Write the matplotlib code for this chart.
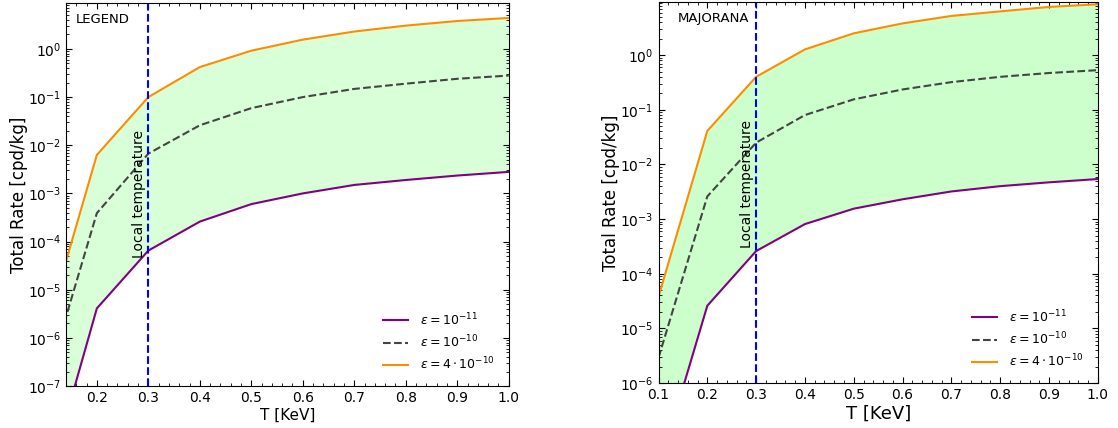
import matplotlib
matplotlib.use("Agg")
import matplotlib.pyplot as plt
from matplotlib.ticker import LogLocator, MultipleLocator, AutoMinorLocator

# temperature grid [KeV]
T = [0.1, 0.2, 0.3, 0.4, 0.5, 0.6, 0.7, 0.8, 0.9, 1.0]

# LEGEND detector, total rate [cpd/kg]
legend_e11 = [7e-10, 4.1e-6, 6.5e-5, 2.6e-4, 6.0e-4, 1.0e-3, 1.5e-3, 1.9e-3, 2.35e-3, 2.8e-3]
legend_e10 = [1.0e-7, 3.9e-4, 6.7e-3, 0.026, 0.059, 0.10, 0.148, 0.19, 0.24, 0.28]
legend_4e10 = [1.3e-6, 6.3e-3, 0.10, 0.42, 0.92, 1.56, 2.3, 3.05, 3.8, 4.4]

# MAJORANA detector
maj_e11 = [2.6e-8, 2.6e-5, 2.6e-4, 8.1e-4, 1.55e-3, 2.3e-3, 3.2e-3, 4.0e-3, 4.7e-3, 5.4e-3]
maj_e10 = [2.9e-6, 2.6e-3, 0.025, 0.080, 0.155, 0.235, 0.32, 0.40, 0.47, 0.53]
maj_4e10 = [3.8e-5, 0.041, 0.40, 1.27, 2.5, 3.8, 5.2, 6.3, 7.6, 8.5]

T_local = 0.3

fig = plt.figure(figsize=(11.18, 4.28), dpi=100)
ax1 = fig.add_axes([0.059, 0.098, 0.396, 0.895])
ax2 = fig.add_axes([0.589, 0.105, 0.393, 0.890])


def draw(ax, e11, e10, e4, name, name_x, ylim, xlim, alpha, text_y, xlabel_size):
    ax.fill_between(T, e11, e4, color='lime', alpha=alpha, lw=0)
    ax.plot(T, e11, color='purple', lw=1.5, label=r'$\varepsilon = 10^{-11}$')
    ax.plot(T, e10, color='#444444', lw=1.5, ls='--', label=r'$\varepsilon = 10^{-10}$')
    ax.plot(T, e4, color='darkorange', lw=1.5, label=r'$\varepsilon = 4 \cdot 10^{-10}$')
    ax.axvline(T_local, color='blue', ls='--', lw=1.5)
    ax.text(0.281, text_y, 'Local temperature', rotation=90, ha='center', va='bottom', fontsize=10)
    ax.text(name_x, 0.975, name, transform=ax.transAxes, ha='left', va='top', fontsize=9.5)
    ax.set_yscale('log')
    ax.set_xlim(*xlim)
    ax.set_ylim(*ylim)
    ax.xaxis.set_major_locator(MultipleLocator(0.1))
    ax.xaxis.set_minor_locator(AutoMinorLocator(5))
    ax.yaxis.set_major_locator(LogLocator(base=10, numticks=15))
    ax.yaxis.set_minor_locator(LogLocator(base=10, subs=range(2, 10), numticks=15))
    ax.tick_params(which='both', direction='in', top=True, right=True, labelsize=10)
    ax.tick_params(which='major', length=4)
    ax.tick_params(which='minor', length=2.5)
    ax.set_xlabel('T [KeV]', fontsize=xlabel_size, labelpad=2)
    ax.set_ylabel('Total Rate [cpd/kg]', fontsize=12, labelpad=0)
    ax.legend(loc='lower right', frameon=False, fontsize=9, borderaxespad=0.7,
              labelspacing=0.45, handlelength=2.0, handletextpad=1.0)


draw(ax1, legend_e11, legend_e10, legend_4e10, 'LEGEND', 0.023,
     (1e-7, 9), (0.14, 1.0), 0.15, 4.5e-5, 11)
draw(ax2, maj_e11, maj_e10, maj_4e10, 'MAJORANA', 0.043,
     (1e-6, 9.3), (0.1, 1.0), 0.2, 3e-4, 13)
ax1.set_xticks([0.2, 0.3, 0.4, 0.5, 0.6, 0.7, 0.8, 0.9, 1.0])

fig.savefig('out.png', dpi=100)
